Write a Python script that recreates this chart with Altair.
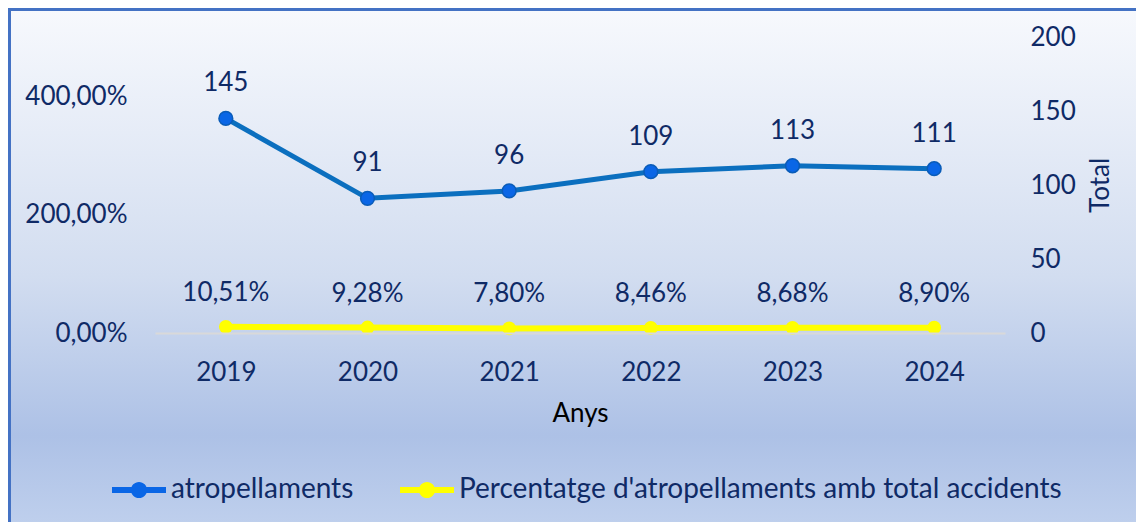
import altair as alt
import pandas as pd

years = ["2019", "2020", "2021", "2022", "2023", "2024"]
atropellaments = [145, 91, 96, 109, 113, 111]
percentatge = [0.1051, 0.0928, 0.0780, 0.0846, 0.0868, 0.0890]
series_names = ["atropellaments", "Percentatge d'atropellaments amb total accidents"]
series_colors = ["#0a66e6", "#ffff00"]
left_ticks = [0, 2, 4]
right_ticks = [0, 50, 100, 150, 200]

df = pd.DataFrame({"year": years, "total": atropellaments, "pct": percentatge})
df_blue = df.assign(series=series_names[0])
df_yel = df.assign(series=series_names[1])

W, H = 850, 296
PL, PT, PR, PB = 147, 29, 131, 189
FONT = "Lato"
NAVY = "#0f2a66"

xenc = alt.X("year:O", sort=years,
             scale=alt.Scale(type="point", padding=0.5),
             axis=alt.Axis(title="Anys", labelAngle=0, labelFontSize=26, labelFont=FONT,
                           labelColor=NAVY, labelBaseline="middle", labelPadding=39,
                           ticks=False, domainColor="#d9d9d9", domainWidth=2,
                           titleFont=FONT, titleFontSize=26, titleFontWeight="normal",
                           titleColor="#000000", titleY=80, titleBaseline="middle",
                           zindex=1))

bg = alt.Chart(pd.DataFrame({"a": [0]})).mark_rect(
    fill=alt.Gradient(gradient="linear",
                      stops=[alt.GradientStop(color="#f7f9fd", offset=0),
                             alt.GradientStop(color="#d2ddf0", offset=0.5),
                             alt.GradientStop(color="#adc1e6", offset=0.8),
                             alt.GradientStop(color="#c2d2ee", offset=1)],
                      x1=0, x2=0, y1=0, y2=1),
    stroke="#4472c4", strokeWidth=3,
).encode(x=alt.value(-PL + 1.5), x2=alt.value(W + PR + 20),
         y=alt.value(-PT + 1.5), y2=alt.value(H + PB + 20))

color_scale = alt.Scale(domain=series_names, range=series_colors)
legend_path = ("M-1,-0.11L1,-0.11L1,0.11L-1,0.11Z "
               "M-0.3,0A0.3,0.3 0 1,1 0.3,0A0.3,0.3 0 1,1 -0.3,0Z")
legend = alt.Legend(title=None, orient="none", direction="horizontal",
                    legendX=-43, legendY=426, symbolType=legend_path,
                    symbolSize=2916, symbolOpacity=1, symbolStrokeWidth=0,
                    labelFont=FONT, labelFontSize=28, labelColor=NAVY,
                    labelOffset=5, columnPadding=46, labelLimit=800, zindex=2)

yR = alt.Y("total:Q", scale=alt.Scale(domain=[0, 200]),
           axis=alt.Axis(orient="right", title="Total", values=right_ticks, grid=False,
                         ticks=False, domain=False, labelFontSize=26, labelFont=FONT,
                         labelColor=NAVY, labelPadding=25, titleFont=FONT,
                         titleFontSize=26, titleFontWeight="normal", titleColor=NAVY,
                         titleAngle=270, titleX=95, titleY=H / 2,
                         titleBaseline="middle", titleAlign="center", zindex=1))
yL = alt.Y("pct:Q", scale=alt.Scale(domain=[0, 5]),
           axis=alt.Axis(orient="left", title=None, values=left_ticks, grid=False,
                         ticks=False, domain=False, labelFontSize=26, labelFont=FONT,
                         labelColor=NAVY, labelPadding=28, zindex=1,
                         labelExpr="replace(format(datum.value, '.2%'), '.', ',')"))

bb = alt.Chart(df_blue)
blue_line = bb.mark_line(color="#0b6fbf", strokeWidth=5).encode(x=xenc, y=yR)
blue_pts = bb.mark_circle(size=190, opacity=1, stroke="#0a5cb8", strokeWidth=1.5).encode(
    x=xenc, y=yR, color=alt.Color("series:N", scale=color_scale, legend=legend))
blue_txt = bb.mark_text(dy=-35, font=FONT, fontSize=26, color=NAVY).encode(
    x=xenc, y=yR, text="total:Q")
blue = alt.layer(blue_line, blue_pts, blue_txt)

yb = alt.Chart(df_yel)
yel_line = yb.mark_line(color="#ffff00", strokeWidth=6).encode(x=xenc, y=yL)
yel_pts = yb.mark_circle(size=190, opacity=1).encode(
    x=xenc, y=yL, color=alt.Color("series:N", scale=color_scale, legend=legend))
yel_txt = yb.transform_calculate(
    lbl="replace(format(datum.pct, '.2%'), '.', ',')"
).mark_text(dy=-34, font=FONT, fontSize=26, color=NAVY).encode(x=xenc, y=yL, text="lbl:N")
yel = alt.layer(yel_line, yel_pts, yel_txt)

chart = alt.layer(bg, yel, blue).resolve_scale(y="independent").properties(
    width=W, height=H,
    autosize=alt.AutoSizeParams(type="none"),
    padding={"left": PL, "top": PT, "right": PR, "bottom": PB},
).configure_view(stroke=None).configure(background="white")

chart.save("out.html", embed_options={"renderer": "svg", "actions": False})
